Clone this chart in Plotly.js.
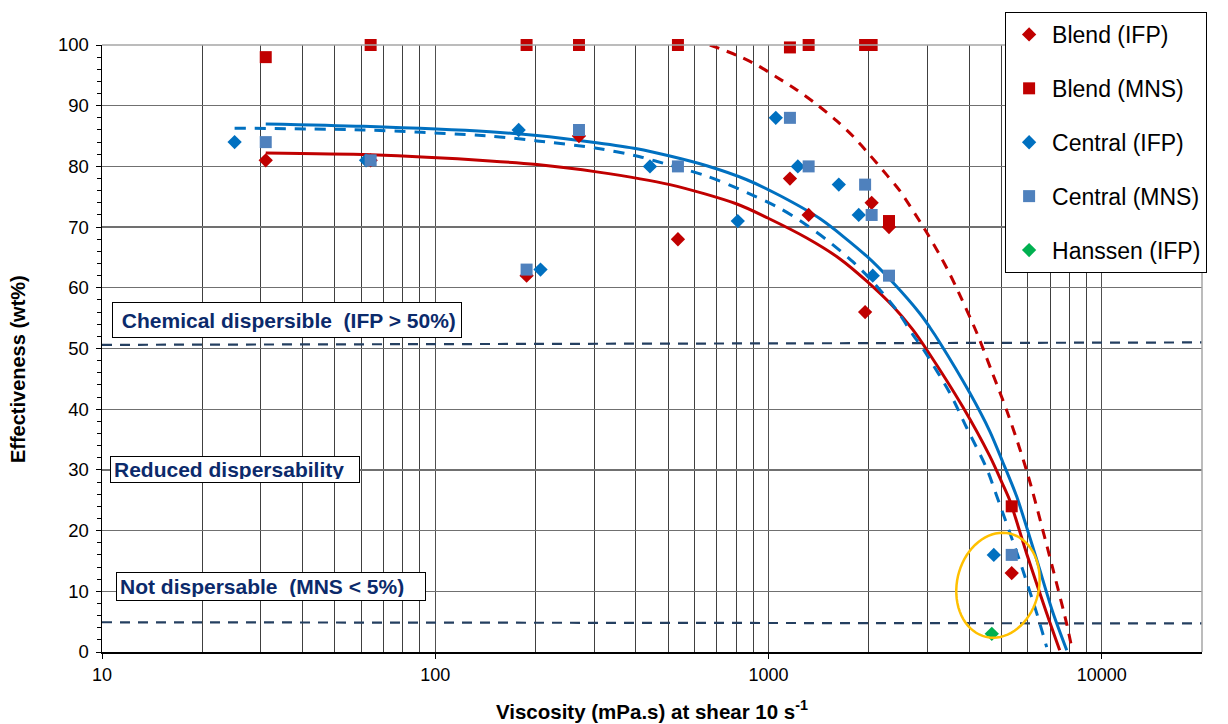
<!DOCTYPE html>
<html>
<head>
<meta charset="utf-8">
<script src="https://cdn.plot.ly/plotly-3.0.1.min.js"></script>
<style>html,body{margin:0;padding:0;background:#fff;}#chart{width:1228px;height:724px;}</style>
</head>
<body>
<div id="chart"></div>
<script>
// ---- Measured points ----
const blendIfpVisc = [31, 64, 188, 270, 535, 1160, 1320, 1950, 2040, 2300, 5370];
const blendIfpEff  = [81, 81, 62, 85, 68, 78, 72, 56, 74, 70, 13];

const blendMnsVisc = [31, 64, 188, 270, 535, 1160, 1320, 1950, 2040, 2300, 5370];
const blendMnsEff  = [98, 100, 100, 100, 100, 99.6, 100, 100, 100, 71, 24];

const centralIfpVisc = [25, 62, 178, 207, 441, 809, 1052, 1225, 1626, 1866, 2056, 4745];
const centralIfpEff  = [84, 81, 86, 63, 80, 71, 88, 80, 77, 72, 62, 16];

const centralMnsVisc = [31, 64, 188, 270, 535, 1160, 1320, 1950, 2040, 2300, 5370];
const centralMnsEff  = [84, 81, 63, 86, 80, 88, 80, 77, 72, 62, 16];

const hanssenIfpVisc = [4680];
const hanssenIfpEff  = [3];

// ---- Fitted curves ----
const blendIfpFitVisc = [31, 64, 146, 202, 305, 506, 804, 995, 1303, 1636, 1972, 2360, 2711, 2985, 3828, 4612, 5012, 5297, 5955, 6838, 7482];
const blendIfpFitEff  = [82.2, 81.9, 80.9, 80.3, 79.1, 77, 73.8, 71.5, 68.2, 64.8, 61.1, 57.0, 53.1, 49.8, 40.4, 32.3, 28.0, 25.0, 16.2, 6.4, 0.3];

const centralIfpFitVisc = [31, 61, 146, 202, 305, 403, 506, 653, 861, 1081, 1426, 1972, 2360, 2843, 3048, 3266, 4018, 4612, 5047, 5559, 6383, 7129, 7855];
const centralIfpFitEff  = [87, 86.6, 85.7, 85.1, 83.9, 82.9, 81.7, 80.1, 77.8, 75.2, 71.4, 65.2, 60.9, 55.8, 53.5, 51.0, 42.7, 36.4, 31.3, 25.6, 15.2, 6.6, 0.3];

const centralMnsFitVisc = [25, 61, 146, 202, 305, 411, 506, 653, 861, 1081, 1241, 1496, 1791, 2056, 2427, 2711, 2904, 3499, 3938, 4520, 4842, 5676, 6383, 6838];
const centralMnsFitEff  = [86.3, 86, 85, 84.2, 83, 81.6, 80.2, 78.4, 75.7, 73.1, 71.1, 67.9, 64.3, 61.0, 56.3, 52.3, 50.0, 42.7, 36.9, 30.2, 25.7, 15.0, 6.4, 0.8];

const blendMnsFitVisc = [667, 804, 923, 1059, 1216, 1396, 1603, 1791, 2012, 2264, 2477, 2985, 3266, 3499, 3673, 4217, 4711, 5188, 5676, 5996, 6213, 7129, 7855, 8125];
const blendMnsFitEff  = [100, 98.3, 96.7, 94.7, 92.6, 90.2, 87.5, 85.0, 81.9, 78.6, 76.0, 69.1, 65.4, 62.3, 59.9, 52.6, 45.8, 39.8, 33.5, 29.3, 26.3, 13.8, 4.6, 0.8];

// ---- Threshold lines ----
const thresholdVisc = [10, 20000];
const thresholdHigh = [50.6, 51.0];
const thresholdLow  = [4.9, 4.7];

// ---- Axis ticks ----
const xTickVals = [10, 100, 1000, 10000];
const xTickText = ['10', '100', '1000', '10000'];
const xMinorVals = [20,30,40,50,60,70,80,90,200,300,400,500,600,700,800,900,2000,3000,4000,5000,6000,7000,8000,9000];
const yTickVals = [0,10,20,30,40,50,60,70,80,90,100];

const RED = '#C00000', BLUE = '#0070C0', BLUE2 = '#4F81BD', GREEN = '#00B050', NAVY = '#243F60';
const FONT = 'Liberation Sans, Arial, sans-serif';

function fitLine(x, y, color, dash) {
  return {x: x, y: y, type: 'scatter', mode: 'lines', showlegend: false, hoverinfo: 'skip',
    line: {color: color, width: 3, dash: dash, shape: 'spline', smoothing: 0.8}};
}
function pts(name, x, y, symbol, color, size) {
  return {x: x, y: y, name: name, type: 'scatter', mode: 'markers', cliponaxis: false,
    legendgroup: name, marker: {symbol: symbol, color: color, size: size, line: {width: 0}}};
}

const traces = [
  {x: thresholdVisc, y: thresholdHigh, mode: 'lines', showlegend: false, hoverinfo: 'skip', line: {color: NAVY, width: 2.2, dash: '10px,8px'}},
  {x: thresholdVisc, y: thresholdLow, mode: 'lines', showlegend: false, hoverinfo: 'skip', line: {color: NAVY, width: 2.2, dash: '10px,8px'}},
  fitLine(blendIfpFitVisc, blendIfpFitEff, RED, 'solid'),
  fitLine(blendMnsFitVisc, blendMnsFitEff, RED, '10px,8px'),
  fitLine(centralIfpFitVisc, centralIfpFitEff, BLUE, 'solid'),
  fitLine(centralMnsFitVisc, centralMnsFitEff, BLUE, '11px,9px'),
  pts('Blend (IFP)', blendIfpVisc, blendIfpEff, 'diamond', RED, 11),
  pts('Blend (MNS)', blendMnsVisc, blendMnsEff, 'square', RED, 12),
  pts('Central (IFP)', centralIfpVisc, centralIfpEff, 'diamond', BLUE, 11),
  pts('Central (MNS)', centralMnsVisc, centralMnsEff, 'square', BLUE2, 12),
  pts('Hanssen (IFP)', hanssenIfpVisc, hanssenIfpEff, 'diamond', GREEN, 11)
];

// tilted ellipse (decoration) in paper coordinates
function ellipsePath(cx, cy, rx, ry, rotDeg, plotW, plotH) {
  const th = rotDeg * Math.PI / 180;
  let d = '';
  for (let i = 0; i <= 72; i++) {
    const t = 2 * Math.PI * i / 72;
    const ex = rx * Math.cos(t), ey = ry * Math.sin(t);
    const px = ex * Math.cos(th) - ey * Math.sin(th);
    const py = ex * Math.sin(th) + ey * Math.cos(th);
    d += (i === 0 ? 'M ' : ' L ') + (cx + px / plotW).toFixed(5) + ',' + (cy + py / plotH).toFixed(5);
  }
  return d + ' Z';
}

const boxFont = {family: FONT, size: 21, color: '#0B2A6B'};
const layout = {
  width: 1228, height: 724,
  margin: {l: 102, r: 26, t: 45, b: 72},
  paper_bgcolor: '#fff', plot_bgcolor: '#fff',
  font: {family: FONT, color: '#000'},
  xaxis: {
    type: 'log', range: [1, Math.log10(20000)],
    tickmode: 'array', tickvals: xTickVals, ticktext: xTickText,
    ticks: 'outside', ticklen: 5, tickcolor: '#000', tickfont: {size: 18, family: FONT},
    showgrid: true, gridcolor: '#505050', gridwidth: 1,
    showline: true, linecolor: '#000', linewidth: 2, zeroline: false,
    minor: {tickmode: 'array', tickvals: xMinorVals, showgrid: true, gridcolor: '#404040', gridwidth: 1, ticks: ''},
    title: {text: '<b>Viscosity (mPa.s) at shear 10 s<sup>-1</sup></b>', font: {size: 20.5, family: FONT}, standoff: 21}
  },
  yaxis: {
    range: [0, 100], tickmode: 'array', tickvals: yTickVals,
    ticks: 'outside', ticklen: 5, tickcolor: '#000', tickfont: {size: 18.5, family: FONT},
    ticklabelstandoff: 3,
    showgrid: true, gridcolor: '#707070', gridwidth: 1.3,
    showline: true, linecolor: '#000', linewidth: 1.5, zeroline: false,
    minor: {dtick: 2, ticks: 'outside', ticklen: 4, tickcolor: '#000', showgrid: false}
  },
  legend: {
    x: 0.821, y: 1.0544, xanchor: 'left', yanchor: 'top',
    bgcolor: '#fff', bordercolor: '#000', borderwidth: 1,
    font: {size: 23, family: FONT, color: '#000'},
    itemwidth: 36,
    traceorder: 'grouped', tracegroupgap: 21
  },
  shapes: [
    {type: 'line', xref: 'paper', yref: 'paper', x0: 0, x1: 1, y0: 1, y1: 1, line: {color: '#A6A6A6', width: 1.5}},
    {type: 'line', xref: 'paper', yref: 'paper', x0: 1, x1: 1, y0: 0, y1: 1, line: {color: '#A6A6A6', width: 1.5}},
    {type: 'path', xref: 'paper', yref: 'paper', path: ellipsePath(0.8145, 0.110, 41, 53, -13, 1100, 607), line: {color: '#FFC000', width: 2.5}}
  ],
  annotations: [
    {xref: 'paper', yref: 'paper', x: -0.0764, y: 0.466, xanchor: 'center', yanchor: 'middle', showarrow: false,
     textangle: -90, text: '<b>Effectiveness (wt%)</b>', font: {family: FONT, size: 20, color: '#000'}},
    {xref: 'paper', yref: 'paper', x: 0.0091, y: 0.547, xanchor: 'left', yanchor: 'middle', showarrow: false,
     text: '<b>&nbsp;Chemical dispersible&nbsp; (IFP &gt; 50%)</b>', font: boxFont, align: 'left', width: 342, height: 28,
     bgcolor: '#fff', bordercolor: '#000', borderwidth: 1, borderpad: 3},
    {xref: 'paper', yref: 'paper', x: 0.0073, y: 0.3007, xanchor: 'left', yanchor: 'middle', showarrow: false,
     text: '<b>Reduced dispersability</b>', font: boxFont, align: 'left', width: 242, height: 19,
     bgcolor: '#fff', bordercolor: '#000', borderwidth: 1, borderpad: 3},
    {xref: 'paper', yref: 'paper', x: 0.0127, y: 0.1079, xanchor: 'left', yanchor: 'middle', showarrow: false,
     text: '<b>Not dispersable&nbsp; (MNS &lt; 5%)</b>', font: boxFont, align: 'left', width: 302, height: 21,
     bgcolor: '#fff', bordercolor: '#000', borderwidth: 1, borderpad: 3}
  ]
};

Plotly.newPlot('chart', traces, layout, {displayModeBar: false, staticPlot: true});
</script>
</body>
</html>
